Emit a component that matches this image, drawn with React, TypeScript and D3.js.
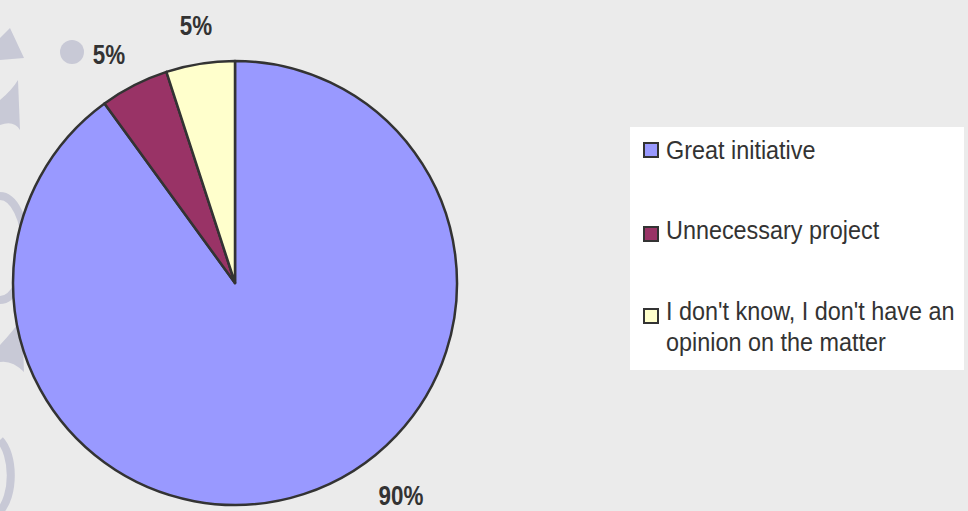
import React from "react";
import * as d3 from "d3";

const categories = ["Great initiative", "Unnecessary project", "I don't know, I don't have an opinion on the matter"];
const legendLines = [["Great initiative"], ["Unnecessary project"], ["I don't know, I don't have an", "opinion on the matter"]];
const values = [90, 5, 5];
const labels = ["90%", "5%", "5%"];
const colors = ["#9999ff", "#993366", "#ffffcc"];

const W = 968, H = 511;
const cx = 235, cy = 283, R = 222;

export default function App() {
  const pie = d3.pie<number>().sort(null).value((d) => d)(values);
  const arc = d3.arc<d3.PieArcDatum<number>>().innerRadius(0).outerRadius(R);
  const ext = [
    { x: 401, y: 505 },
    { x: 109, y: 64 },
    { x: 196, y: 35 },
  ];
  const legendY = [159, 239, 320];
  const swatchY = [143, 227, 309];
  return (
    <svg width={W} height={H} style={{ position: "absolute", left: 0, top: 0, background: "#ebebeb" }}>
      <rect x={0} y={0} width={W} height={H} fill="#ebebeb" />
      <g fill="#c8c9d6">
        <circle cx={72} cy={52} r={12} />
        <path d="M0,38 L10,28 L24,58 L0,60 Z" />
        <path d="M0,100 Q12,90 18,80 L20,130 Q14,120 0,125 Z" />
        <path d="M0,345 Q14,330 22,318 L24,372 Q12,360 0,362 Z" />
      </g>
      <g fill="none" stroke="#c8c9d6" strokeWidth={8}>
        <path d="M0,196 A22,45 0 0 1 0,300" />
        <path d="M0,440 A20,40 0 0 1 0,511" />
      </g>
      <g transform={`translate(${cx},${cy})`}>
        {pie.map((p, i) => (
          <path key={i} d={arc(p) || ""} fill={colors[i]} stroke="#333333" strokeWidth={2.5} strokeLinejoin="round" />
        ))}
      </g>
      {ext.map((p, i) => (
        <g key={i} transform={`translate(${p.x},${p.y}) scale(0.8,1)`}>
          <text textAnchor="middle" fontFamily="Liberation Sans, Arial, sans-serif" fontWeight="bold" fontSize={28} fill="#333333">
            {labels[i]}
          </text>
        </g>
      ))}
      <rect x={630} y={127} width={334} height={243} fill="#ffffff" />
      {categories.map((c, i) => (
        <g key={c}>
          <rect x={644} y={swatchY[i]} width={14} height={14} fill={colors[i]} stroke="#333333" strokeWidth={2} />
          {legendLines[i].map((ln, j) => (
            <g key={j} transform={`translate(666,${legendY[i] + j * 31}) scale(0.9,1)`}>
              <text fontFamily="Liberation Sans, Arial, sans-serif" fontSize={26} fill="#333333">{ln}</text>
            </g>
          ))}
        </g>
      ))}
    </svg>
  );
}
